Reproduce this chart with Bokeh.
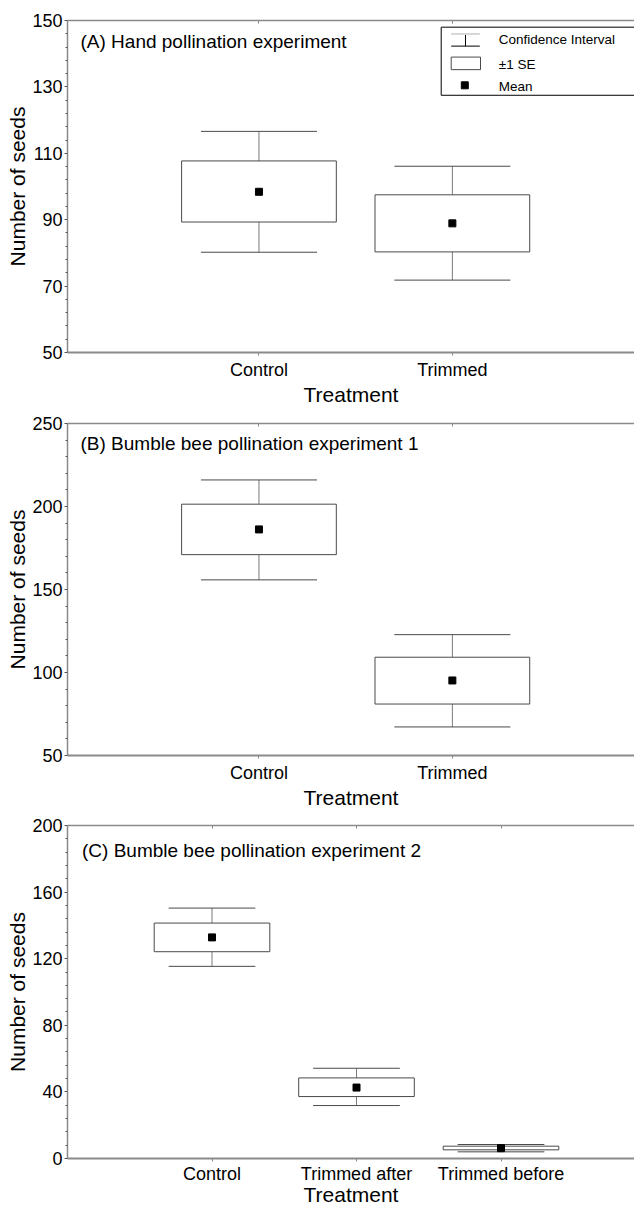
from bokeh.plotting import figure
from bokeh.layouts import column
from bokeh.models import FixedTicker, LinearAxis, Label, Range1d
from bokeh.embed import file_html
from bokeh.resources import INLINE

# ---------------- data ----------------
a_categories = ["Control", "Trimmed"]
a_mean = [98.4, 88.9]
a_se_low = [89.3, 80.3]
a_se_high = [107.7, 97.5]
a_ci_low = [80.2, 71.8]
a_ci_high = [116.6, 106.1]
a_yticks = [50, 70, 90, 110, 130, 150]

b_categories = ["Control", "Trimmed"]
b_mean = [186.2, 95.2]
b_se_low = [171.0, 81.0]
b_se_high = [201.4, 109.2]
b_ci_low = [155.8, 67.2]
b_ci_high = [216.0, 122.8]
b_yticks = [50, 100, 150, 200, 250]

c_categories = ["Control", "Trimmed after", "Trimmed before"]
c_mean = [132.8, 42.6, 6.2]
c_se_low = [124.2, 37.2, 5.2]
c_se_high = [141.4, 48.4, 7.4]
c_ci_low = [115.4, 31.8, 4.0]
c_ci_high = [150.4, 54.2, 8.4]
c_yticks = [0, 40, 80, 120, 160, 200]

titles = ["(A) Hand pollination experiment",
          "(B) Bumble bee pollination experiment 1",
          "(C) Bumble bee pollination experiment 2"]
legend_labels = ["Confidence Interval", "\u00b11 SE", "Mean"]
x_label = "Treatment"
y_label = "Number of seeds"

# ---------------- layout constants ----------------
FONT = "Liberation Sans"
FIG_W = 634
LEFT = 67
FRAME_W = FIG_W - LEFT
FRAME_H = 333
AXIS_GREY = "#8a8a8a"
LINE_DARK = "#4a4a4a"
LINE_MID = "#7a7a7a"


def minor_from(ticks):
    out = []
    for a, b in zip(ticks[:-1], ticks[1:]):
        step = (b - a) / 5
        out += [a + step * k for k in range(1, 5)]
    return out


def make_panel(cats, mean, se_lo, se_hi, ci_lo, ci_hi, yticks,
               unit_px, x_start, title, title_dx, title_dy,
               border_top, border_bottom, tick_standoff=4, label_standoff=0):
    y0, y1 = yticks[0], yticks[-1]
    x_end = x_start + FRAME_W / unit_px
    height = border_top + FRAME_H + border_bottom
    p = figure(width=FIG_W, height=height,
               x_range=Range1d(x_start, x_end), y_range=Range1d(y0, y1),
               output_backend="svg", toolbar_location=None,
               min_border_left=LEFT, min_border_right=0,
               min_border_top=border_top, min_border_bottom=border_bottom)
    p.outline_line_color = None
    p.xgrid.visible = False
    p.ygrid.visible = False

    xs = [i + 1 for i in range(len(cats))]

    def px_x(rel):
        return x_start + rel / FRAME_W * (x_end - x_start)

    def px_y(rel):
        return y1 - rel / FRAME_H * (y1 - y0)

    # x axis (bottom)
    xa = p.xaxis[0]
    xa.ticker = FixedTicker(ticks=xs, minor_ticks=[])
    xa.major_label_overrides = {x: c for x, c in zip(xs, cats)}
    xa.axis_line_color = AXIS_GREY
    xa.axis_line_width = 2
    xa.major_tick_in = 0
    xa.major_tick_out = 3
    xa.major_tick_line_color = AXIS_GREY
    xa.major_label_standoff = tick_standoff
    xa.major_label_text_font = FONT
    xa.major_label_text_font_size = "18px"
    xa.major_label_text_color = "black"
    xa.axis_label = x_label
    xa.axis_label_text_font = FONT
    xa.axis_label_text_font_size = "21px"
    xa.axis_label_text_font_style = "normal"
    xa.axis_label_text_color = "black"
    xa.axis_label_standoff = label_standoff

    # top frame line with inner ticks
    top = LinearAxis(ticker=FixedTicker(ticks=xs, minor_ticks=[]))
    top.axis_line_color = AXIS_GREY
    top.axis_line_width = 1.5
    top.major_tick_in = 3
    top.major_tick_out = 0
    top.major_tick_line_color = AXIS_GREY
    top.major_label_text_font_size = "0px"
    top.major_label_text_color = None
    top.major_label_standoff = 0
    p.add_layout(top, "above")

    # y axis
    ya = p.yaxis[0]
    ya.ticker = FixedTicker(ticks=yticks, minor_ticks=minor_from(yticks))
    ya.axis_line_color = AXIS_GREY
    ya.axis_line_width = 1.5
    ya.major_tick_in = 0
    ya.major_tick_out = 3
    ya.minor_tick_in = 0
    ya.minor_tick_out = 2
    ya.major_tick_line_color = "#555555"
    ya.minor_tick_line_color = "#555555"
    ya.major_label_standoff = 2
    ya.major_label_text_font = FONT
    ya.major_label_text_font_size = "18px"
    ya.major_label_text_color = "black"
    ya.axis_label = y_label
    ya.axis_label_text_font = FONT
    ya.axis_label_text_font_size = "21px"
    ya.axis_label_text_font_style = "normal"
    ya.axis_label_text_color = "black"
    ya.axis_label_standoff = 0

    # whisker stems
    p.segment(x0=xs, y0=se_hi, x1=xs, y1=ci_hi, line_color=LINE_MID, line_width=1)
    p.segment(x0=xs, y0=ci_lo, x1=xs, y1=se_lo, line_color=LINE_MID, line_width=1)
    # caps
    cl = [x - 0.3 for x in xs]
    cr = [x + 0.3 for x in xs]
    p.segment(x0=cl, y0=ci_hi, x1=cr, y1=ci_hi, line_color=LINE_DARK, line_width=1)
    p.segment(x0=cl, y0=ci_lo, x1=cr, y1=ci_lo, line_color=LINE_DARK, line_width=1)
    # +-1 SE boxes
    p.quad(left=[x - 0.4 for x in xs], right=[x + 0.4 for x in xs],
           bottom=se_lo, top=se_hi, fill_color="white",
           line_color=LINE_DARK, line_width=1)
    # means
    p.scatter(x=xs, y=mean, marker="square", size=7, color="black")

    p.add_layout(Label(x=px_x(title_dx), y=px_y(title_dy), text=title,
                       text_font=FONT, text_font_size="19px", text_color="black",
                       text_baseline="middle", text_align="left"))
    return p, px_x, px_y, x_end


pA, axx, axy, a_end = make_panel(a_categories, a_mean, a_se_low, a_se_high,
                                 a_ci_low, a_ci_high, a_yticks, 193.4, 0.01,
                                 titles[0], 13, 21, 20, 55)
pB, _, _, _ = make_panel(b_categories, b_mean, b_se_low, b_se_high,
                         b_ci_low, b_ci_high, b_yticks, 193.4, 0.01,
                         titles[1], 13, 20, 15, 55)
pC, _, _, _ = make_panel(c_categories, c_mean, c_se_low, c_se_high,
                         c_ci_low, c_ci_high, c_yticks, 144.5, 0.0,
                         titles[2], 14.5, 25, 14, 51,
                         tick_standoff=2, label_standoff=-4)

# ---------------- legend in panel A (drawn in frame pixels) ----------------
pA.quad(left=[axx(373.7)], right=[a_end + 1], top=[axy(6.7)], bottom=[axy(75)],
        fill_color="white", line_color="black", line_width=1)
pA.segment(x0=[axx(383.7)], y0=[axy(13.5)], x1=[axx(412.3)], y1=[axy(13.5)],
           line_color="#b0b0b0", line_width=1)
pA.segment(x0=[axx(398)], y0=[axy(14.5)], x1=[axx(398)], y1=[axy(25.7)],
           line_color="black", line_width=1)
pA.segment(x0=[axx(383.7)], y0=[axy(25.7)], x1=[axx(412.3)], y1=[axy(25.7)],
           line_color="black", line_width=1)
pA.quad(left=[axx(383.7)], right=[axx(413)], top=[axy(36.7)], bottom=[axy(49.3)],
        fill_color="white", line_color=LINE_DARK, line_width=1)
pA.scatter(x=[axx(397.3)], y=[axy(65)], marker="square", size=7, color="black")
for lbl, ry in zip(legend_labels, [19, 44.3, 65.7]):
    pA.add_layout(Label(x=axx(431.3), y=axy(ry), text=lbl, text_font=FONT,
                        text_font_size="13.5px", text_color="black",
                        text_baseline="middle", text_align="left"))

layout = column(pA, pB, pC, spacing=0)
open("out.html", "w").write(file_html(layout, INLINE))
